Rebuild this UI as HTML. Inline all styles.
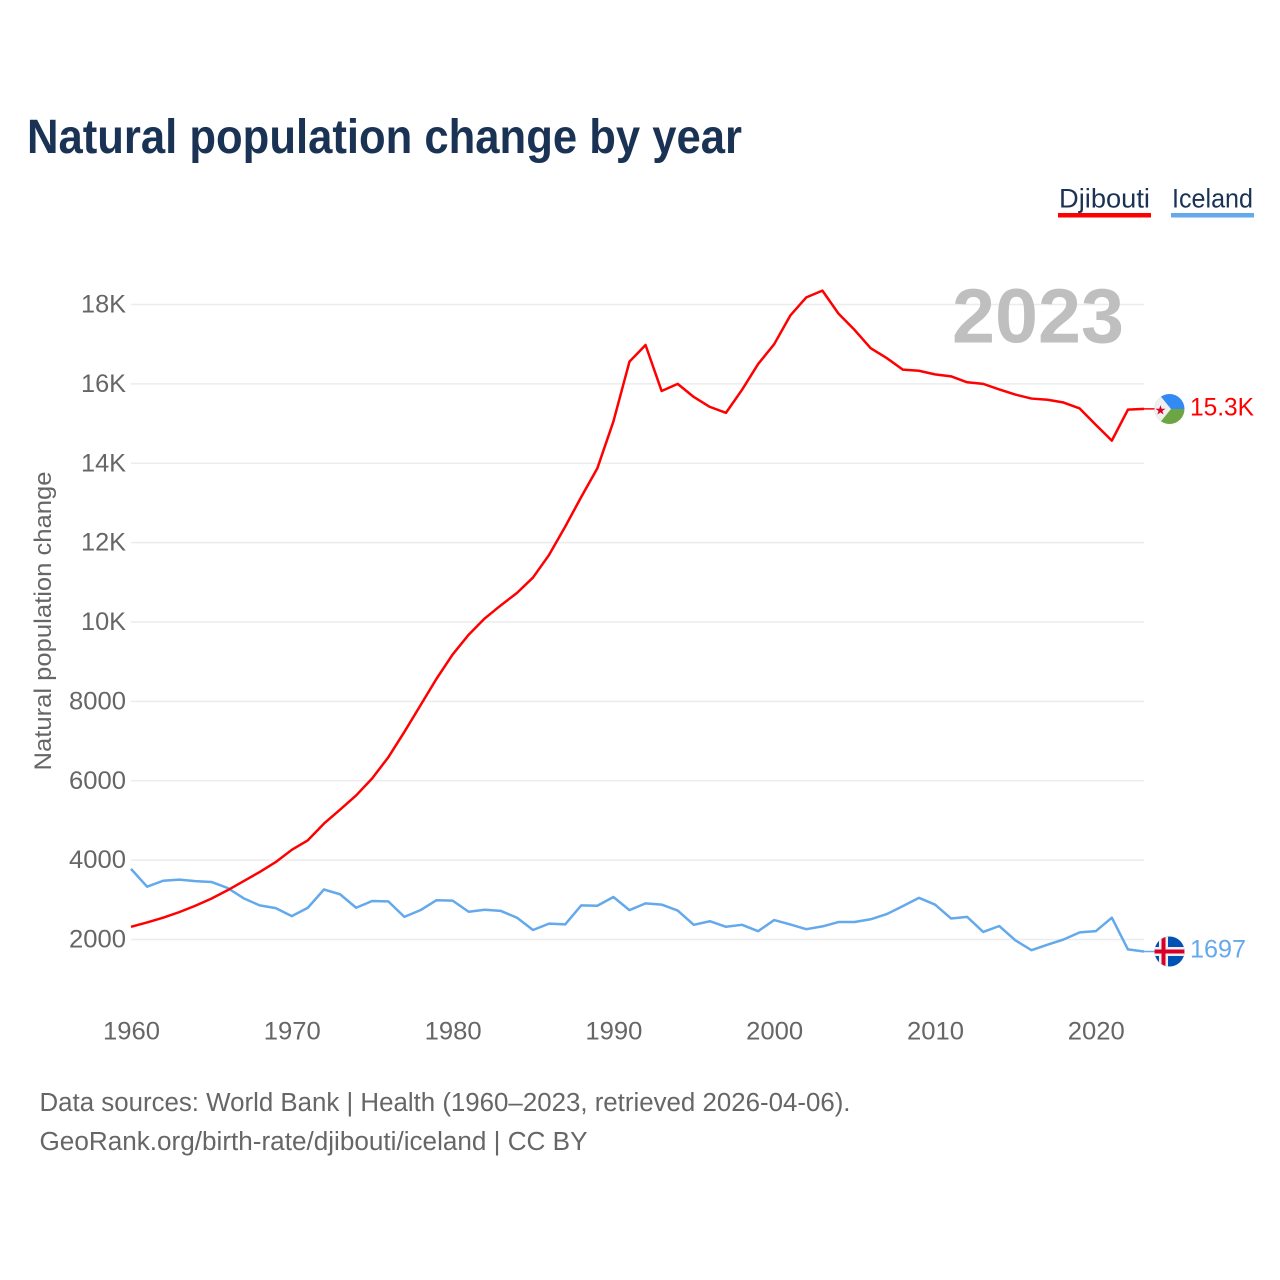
<!DOCTYPE html>
<html lang="en">
<head>
<meta charset="utf-8">
<title>Natural population change by year</title>
<style>
html,body{margin:0;padding:0;background:#fff;width:1280px;height:1280px;overflow:hidden}
svg{display:block;font-family:"Liberation Sans",sans-serif}
</style>
</head>
<body>
<svg id="chart" xmlns="http://www.w3.org/2000/svg" width="1280" height="1280" viewBox="0 0 1280 1280">
  <defs>
    <clipPath id="flag-clip-dj"><circle cx="1169.500" cy="409" r="15"/></clipPath>
    <clipPath id="flag-clip-is"><circle cx="1169.500" cy="951.500" r="15"/></clipPath>
  </defs>
  <text x="27" y="153" font-size="48" font-weight="700" fill="#1a3354" textLength="715" lengthAdjust="spacingAndGlyphs">Natural population change by year</text>

  <g>
    <text x="1059" y="207.500" font-size="26.500" fill="#1a3354" textLength="91" lengthAdjust="spacingAndGlyphs">Djibouti</text>
    <rect x="1058" y="213" width="93" height="4.500" fill="#ff0000"/>
  </g>
  <g>
    <text x="1172" y="207.500" font-size="26.500" fill="#1a3354" textLength="81" lengthAdjust="spacingAndGlyphs">Iceland</text>
    <rect x="1171" y="213" width="83" height="4.500" fill="#63a9ec"/>
  </g>

  <g id="grid"></g>
  <g id="yLabels"></g>
  <g id="xLabels"></g>

  <text transform="translate(51,621) rotate(-90)" text-anchor="middle" font-size="24.500" fill="#666666" textLength="299" lengthAdjust="spacingAndGlyphs">Natural population change</text>

  <text x="952" y="342.500" font-size="77" font-weight="700" fill="#bfbfbf" textLength="172" lengthAdjust="spacingAndGlyphs">2023</text>

  <path id="lineIceland" fill="none" stroke="#63a9ec" stroke-width="2.500" stroke-linejoin="round"/>
  <path id="lineDjibouti" fill="none" stroke="#ff0000" stroke-width="2.500" stroke-linejoin="round"/>
  <line id="connDjibouti" stroke="#ff0000" stroke-width="1.500"/>
  <line id="connIceland" stroke="#63a9ec" stroke-width="1.500"/>

  <g clip-path="url(#flag-clip-dj)">
    <rect x="1154" y="393" width="31" height="16" fill="#338af3"/>
    <rect x="1154" y="409" width="31" height="16" fill="#6da544"/>
    <polygon points="1154,393 1154,425 1158,425 1171,409 1158,393" fill="#f0f0f0"/>
    <text x="1160.500" y="414.500" font-size="13" text-anchor="middle" fill="#d80027">★</text>
  </g>
  <text id="valDjibouti" x="1190" y="415.500" font-size="25" fill="#ff0000" textLength="64" lengthAdjust="spacingAndGlyphs">15.3K</text>

  <g clip-path="url(#flag-clip-is)">
    <rect x="1154" y="936" width="31" height="31" fill="#0052b4"/>
    <rect x="1154" y="947" width="31" height="9" fill="#f0f0f0"/>
    <rect x="1159" y="936" width="9" height="31" fill="#f0f0f0"/>
    <rect x="1154" y="949.500" width="31" height="4" fill="#d80027"/>
    <rect x="1161.500" y="936" width="4" height="31" fill="#d80027"/>
  </g>
  <text id="valIceland" x="1190" y="957.500" font-size="25" fill="#63a9ec" textLength="56" lengthAdjust="spacingAndGlyphs">1697</text>

  <text x="39.500" y="1111" font-size="25.500" fill="#666666" textLength="811" lengthAdjust="spacingAndGlyphs">Data sources: World Bank | Health (1960–2023, retrieved 2026-04-06).</text>
  <text x="39.500" y="1150" font-size="25.500" fill="#666666" textLength="548" lengthAdjust="spacingAndGlyphs">GeoRank.org/birth-rate/djibouti/iceland | CC BY</text>
</svg>
<script>
const startYear = 1960;
const djibouti = [2320,2430,2550,2690,2850,3030,3240,3470,3700,3950,4260,4500,4920,5270,5630,6060,6590,7230,7900,8570,9180,9680,10090,10420,10730,11120,11690,12400,13150,13870,15050,16560,16980,15820,16000,15670,15420,15270,15850,16500,17000,17720,18180,18350,17770,17360,16900,16650,16360,16330,16240,16190,16040,16000,15860,15730,15630,15600,15530,15380,14970,14570,15350,15370];
const iceland = [3780,3330,3480,3510,3470,3450,3300,3040,2860,2790,2590,2800,3260,3140,2800,2970,2960,2570,2740,2990,2980,2700,2750,2720,2550,2240,2400,2380,2860,2850,3070,2740,2910,2880,2730,2370,2460,2320,2370,2210,2490,2380,2260,2330,2440,2440,2510,2640,2840,3050,2880,2530,2570,2190,2340,1980,1730,1870,2000,2180,2210,2550,1750,1697];
const yTicks = [2000,4000,6000,8000,10000,12000,14000,16000,18000];
const yTickLabels = ["2000","4000","6000","8000","10K","12K","14K","16K","18K"];
const xTicks = [1960,1970,1980,1990,2000,2010,2020];

const NS = "http://www.w3.org/2000/svg";
const xScale = yr => 131 + (yr - 1960) * (1144 - 131) / 63;
const yScale = v => 939.5 - (v - 2000) * (939.5 - 304.5) / 16000;

const gridG = document.getElementById("grid");
const yG = document.getElementById("yLabels");
const xG = document.getElementById("xLabels");

yTicks.forEach((v, i) => {
  const ln = document.createElementNS(NS, "line");
  
  
  ln.setAttribute("x1", 131);
  ln.setAttribute("x2", 1144);
  ln.setAttribute("y1", yScale(v));
  ln.setAttribute("y2", yScale(v));
  ln.setAttribute("stroke", "#ececec");
  ln.setAttribute("stroke-width", "1.5");
  gridG.appendChild(ln);

  const t = document.createElementNS(NS, "text");
  
  
  t.setAttribute("x", 126);
  t.setAttribute("y", yScale(v) + 8);
  t.setAttribute("font-size", "25");
  t.setAttribute("fill", "#666666");
  t.setAttribute("text-anchor", "end");
  t.setAttribute("textLength", yTickLabels[i].length === 4 ? 57 : 45);
  t.setAttribute("lengthAdjust", "spacingAndGlyphs");
  t.textContent = yTickLabels[i];
  yG.appendChild(t);
});

xTicks.forEach(yr => {
  const t = document.createElementNS(NS, "text");
  
  
  t.setAttribute("x", xScale(yr) + 0.5);
  t.setAttribute("y", 1039.5);
  t.setAttribute("font-size", "25");
  t.setAttribute("fill", "#666666");
  t.setAttribute("text-anchor", "middle");
  t.setAttribute("textLength", 57);
  t.setAttribute("lengthAdjust", "spacingAndGlyphs");
  t.textContent = String(yr);
  xG.appendChild(t);
});

function linePath(values) {
  return values.map((v, i) => (i ? "L" : "M") + xScale(startYear + i).toFixed(2) + " " + yScale(v).toFixed(2)).join("");
}
document.getElementById("lineDjibouti").setAttribute("d", linePath(djibouti));
document.getElementById("lineIceland").setAttribute("d", linePath(iceland));

function connector(id, values) {
  const c = document.getElementById(id);
  const y = yScale(values[values.length - 1]);
  c.setAttribute("x1", 1144);
  c.setAttribute("x2", 1155);
  c.setAttribute("y1", y);
  c.setAttribute("y2", y);
}
connector("connDjibouti", djibouti);
connector("connIceland", iceland);
</script>
</body>
</html>
